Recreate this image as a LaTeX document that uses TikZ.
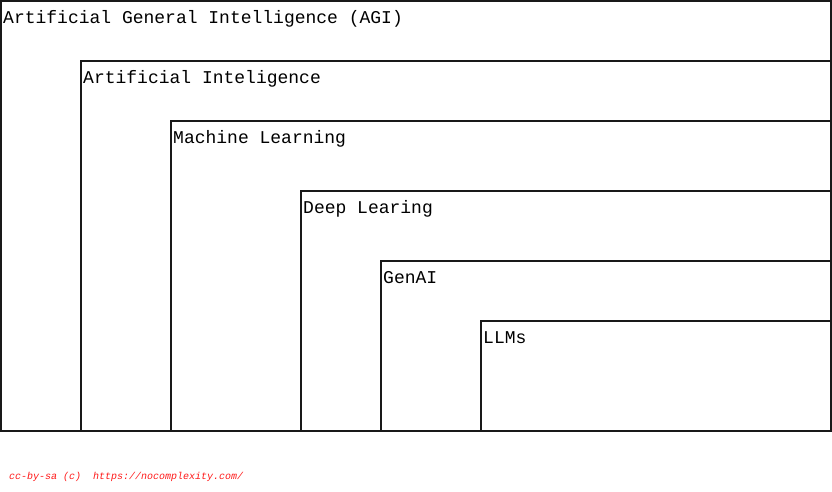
\documentclass[tikz,border=0pt]{standalone}
\usepackage{fontspec}
\setmonofont{Liberation Mono}
\begin{document}
\begin{tikzpicture}[x=1pt,y=-1pt,
  layer/.style={draw=black!90,line width=1.6pt,fill=white},
  lbl/.style={anchor=base west,inner sep=0pt,font=\ttfamily\fontsize{18}{20}\selectfont},
  foot/.style={anchor=base west,inner sep=0pt,text=red!90!white,font=\ttfamily\itshape\fontsize{10}{12}\selectfont}]
\useasboundingbox (0,0) rectangle (832,491);
\fill[white] (0,0) rectangle (832,491);
\draw[layer] (1,1) rectangle (831,431);
\node[lbl] (agi) at (3,23) {Artificial General Intelligence (AGI)};
\draw[layer] (81,61) rectangle (831,431);
\node[lbl] (ai) at (83,83) {Artificial Inteligence};
\draw[layer] (171,121) rectangle (831,431);
\node[lbl] (ml) at (173,143) {Machine Learning};
\draw[layer] (301,191) rectangle (831,431);
\node[lbl] (dl) at (303,213) {Deep Learing};
\draw[layer] (381,261) rectangle (831,431);
\node[lbl] (gen) at (383,283) {GenAI};
\draw[layer] (481,321) rectangle (831,431);
\node[lbl] (llm) at (483,343) {LLMs};
\node[foot] (cc) at (9,479) {cc-by-sa (c)\ \ https://nocomplexity.com/};
\end{tikzpicture}
\end{document}
